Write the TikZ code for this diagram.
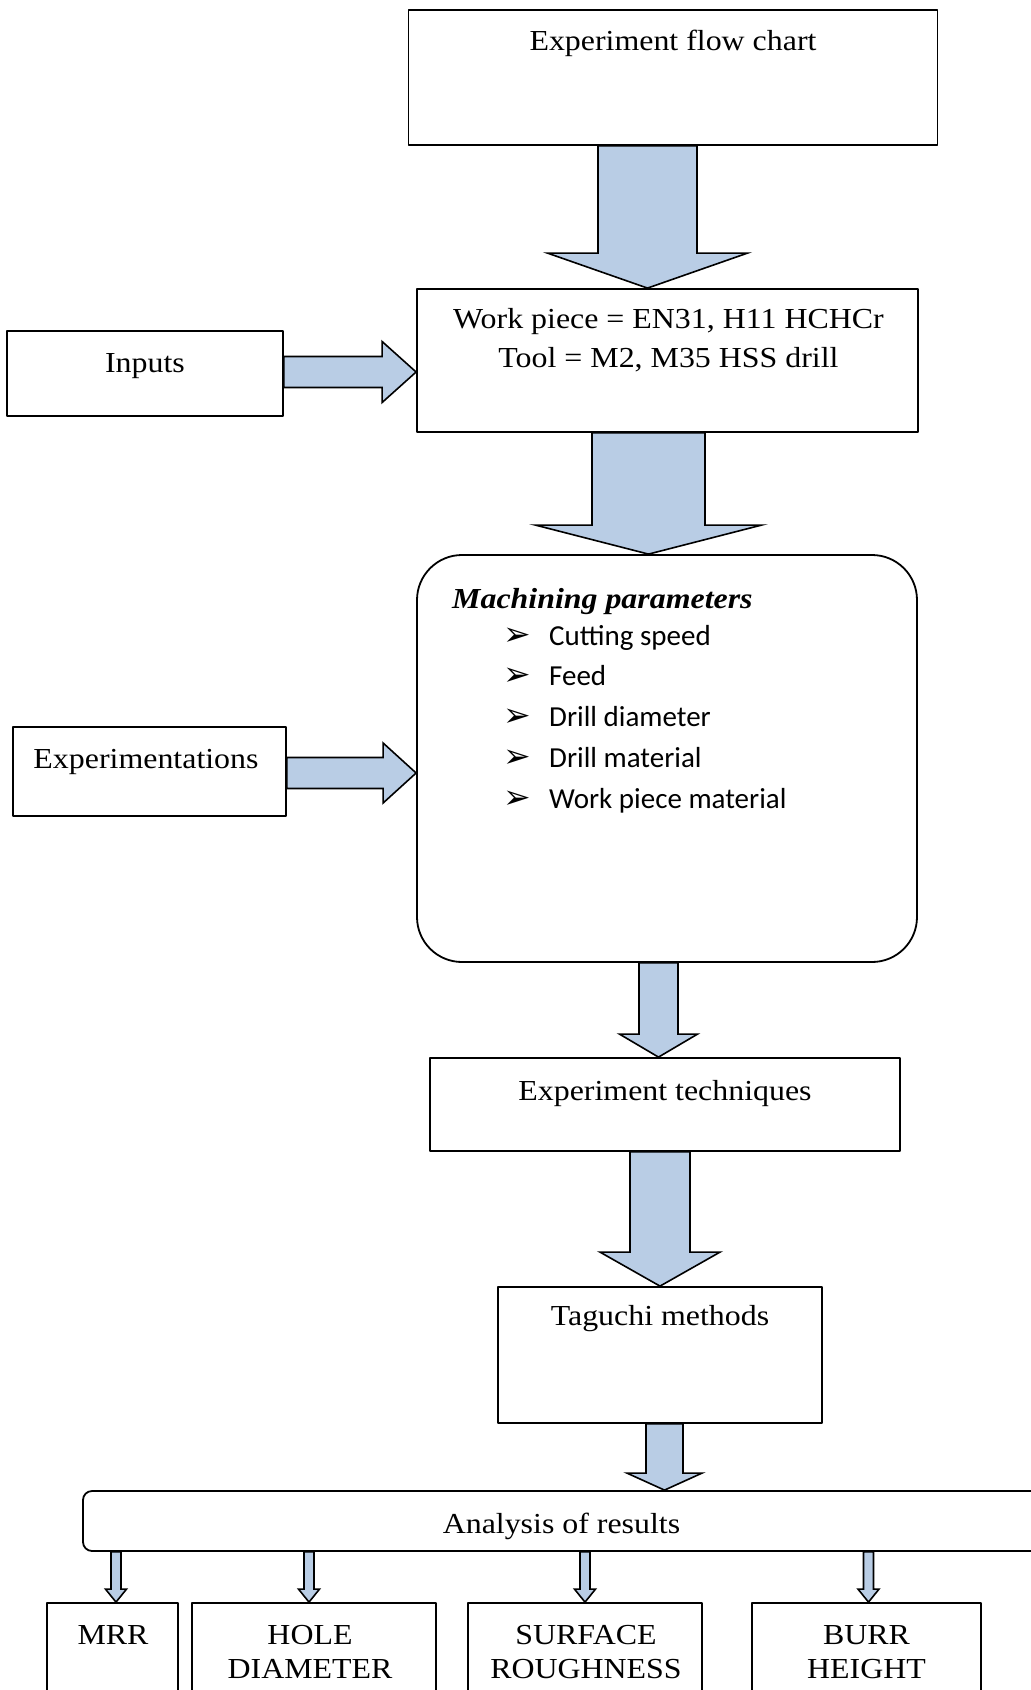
\documentclass[tikz,border=0pt]{standalone}
\usepackage{fontspec}
\setmainfont[FakeStretch=1.1]{Liberation Serif}
\newfontfamily\calfont{Carlito}
\newfontfamily\dingfont{DejaVu Sans}
\usetikzlibrary{calc}
\definecolor{arrblue}{RGB}{185,205,229}
\tikzset{
  box/.style={draw,line width=1.8pt,inner sep=0pt},
  txt/.style={font=\fontsize{29}{38}\selectfont,inner sep=0pt,anchor=base,align=center},
  blockarr/.style={draw,fill=arrblue,line width=1.6pt,line join=miter},
}
% x, from, to, shaft half, head half, head length
\newcommand{\downarr}[6]{\draw[blockarr] let \p1=(#2.south), \p2=(#3.north) in
  (#1pt-#4pt,\y1) -- (#1pt-#4pt,\y2+#6pt) -- (#1pt-#5pt,\y2+#6pt) -- (#1pt,\y2) -- (#1pt+#5pt,\y2+#6pt) -- (#1pt+#4pt,\y2+#6pt) -- (#1pt+#4pt,\y1) -- cycle;}
% y, from, to, shaft half, head half, head length
\newcommand{\rightarr}[6]{\draw[blockarr] let \p1=(#2.east), \p2=(#3.west) in
  (\x1,-#1pt+#4pt) -- (\x2-#6pt,-#1pt+#4pt) -- (\x2-#6pt,-#1pt+#5pt) -- (\x2,-#1pt) -- (\x2-#6pt,-#1pt-#5pt) -- (\x2-#6pt,-#1pt-#4pt) -- (\x1,-#1pt-#4pt) -- cycle;}
\newcommand{\bul}{\makebox[46pt][l]{\dingfont\fontsize{33}{33}\selectfont ➢}}

\begin{document}
\begin{tikzpicture}[line cap=round,line join=round,x=1pt,y=-1pt]
\clip(0,0) rectangle (1031,1690);
\node[box,minimum width=529pt,minimum height=135pt] (chart) at (673,77.5) {};
\node[box,minimum width=501pt,minimum height=143pt] (wp) at (667.5,360.5) {};
\node[box,minimum width=276pt,minimum height=85pt] (inputs) at (145,373.5) {};
\node[box,rounded corners=45pt,minimum width=500pt,minimum height=407pt] (mach) at (667,758.5) {};
\node[box,minimum width=273pt,minimum height=89pt] (expm) at (149.5,771.5) {};
\node[box,minimum width=470pt,minimum height=93pt] (tech) at (665,1104.5) {};
\node[box,minimum width=324pt,minimum height=136pt] (taguchi) at (660,1355) {};
\node[box,rounded corners=9pt,minimum width=957pt,minimum height=60pt] (analysis) at (561.5,1521) {};
\node[box,minimum width=131pt,minimum height=117pt] (mrr) at (112.5,1661.5) {};
\node[box,minimum width=244pt,minimum height=117pt] (hole) at (314,1661.5) {};
\node[box,minimum width=234pt,minimum height=117pt] (surf) at (585,1661.5) {};
\node[box,minimum width=229pt,minimum height=117pt] (burr) at (866.5,1661.5) {};
\node[txt] (chartText) at (673,50) {Experiment flow chart};
\node[txt,font=\fontsize{29}{39}\selectfont] (wpText) at (668.5,367) {Work piece = EN31, H11 HCHCr\\Tool = M2, M35 HSS drill};
\node[txt] (inputsText) at (145,372) {Inputs};
\node[txt,anchor=base west] (machTitle) at (452,608) {\textbf{\textit{Machining parameters}}};
\node[txt,anchor=base west,align=left,font=\calfont\fontsize{29}{40.75}\selectfont] (params) at (503,808) {\bul Cutting speed\\\bul Feed\\\bul Drill diameter\\\bul Drill material\\\bul Work piece material};
\node[txt] (expmText) at (146,768) {Experimentations};
\node[txt] (techText) at (665,1100) {Experiment techniques};
\node[txt] (taguchiText) at (660,1325) {Taguchi methods};
\node[txt] (analysisText) at (561.5,1533) {Analysis of results};
\node[txt] (mrrText) at (113,1644) {MRR};
\node[txt,font=\fontsize{29}{34}\selectfont] (holeText) at (310,1678) {HOLE\\DIAMETER};
\node[txt,font=\fontsize{29}{34}\selectfont] (surfText) at (586,1678) {SURFACE\\ROUGHNESS};
\node[txt,font=\fontsize{29}{34}\selectfont] (burrText) at (866.5,1678) {BURR\\HEIGHT};
\downarr{647.5}{chart}{wp}{49.5}{100}{35}
\downarr{648.5}{wp}{mach}{56.5}{113}{29}
\downarr{658.5}{mach}{tech}{19.5}{39}{23}
\downarr{660}{tech}{taguchi}{30}{60}{34}
\downarr{664.5}{taguchi}{analysis}{18.5}{37.5}{17}
\rightarr{372}{inputs}{wp}{15.5}{30.5}{34}
\rightarr{773}{expm}{mach}{15.5}{30}{33}
\downarr{116}{analysis}{mrr}{5}{10.5}{13}
\downarr{309}{analysis}{hole}{5}{10.5}{13}
\downarr{585}{analysis}{surf}{5}{10.5}{13}
\downarr{868.5}{analysis}{burr}{5}{10.5}{13}
\end{tikzpicture}
\end{document}
